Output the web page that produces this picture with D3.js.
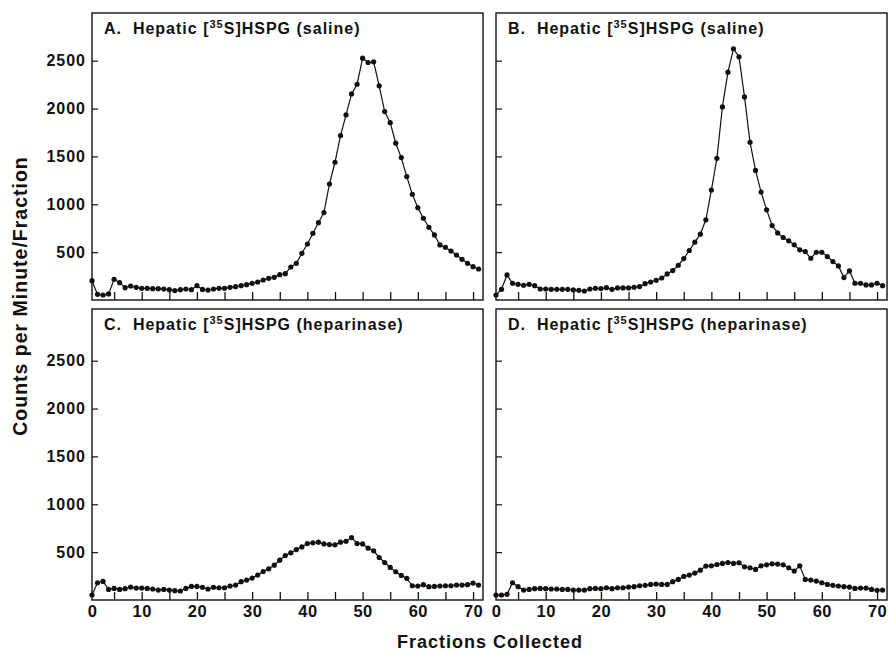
<!DOCTYPE html>
<html lang="en">
<head>
<meta charset="UTF-8">
<title>Hepatic [35S]HSPG fractions</title>
<script src="https://d3js.org/d3.v7.min.js"></script>
<style>
  body { margin: 0; background: #fff; }
  svg text { font-family: "Liberation Sans", Arial, Helvetica, sans-serif; font-weight: bold; fill: #111; }
</style>
</head>
<body>
<div id="chart"></div>
<script>
// fraction numbers on the x axis
const fractions = d3.range(1, 72);

// counts per minute per fraction
const salineA = [202, 59, 52, 63, 216, 181, 129, 146, 132, 122,
  122, 118, 118, 115, 108, 98, 108, 115, 108, 150,
  111, 104, 115, 122, 122, 132, 139, 150, 160, 174,
  188, 209, 226, 237, 265, 275, 345, 383, 488, 585,
  697, 808, 913, 1212, 1439, 1718, 1934, 2153, 2254, 2526,
  2481, 2488, 2237, 1968, 1853, 1638, 1488, 1289, 1104, 965,
  854, 760, 680, 575, 550, 512, 470, 425, 383, 348, 324];

const salineB = [52, 112, 262, 175, 164, 154, 164, 150, 115, 115,
  112, 112, 112, 112, 105, 101, 94, 115, 122, 119,
  129, 112, 126, 126, 126, 133, 140, 171, 188, 206,
  230, 272, 307, 363, 433, 517, 604, 688, 838, 1148,
  1480, 2017, 2380, 2625, 2541, 2122, 1647, 1354, 1127, 942,
  778, 701, 653, 618, 576, 524, 506, 436, 499, 499,
  454, 401, 356, 234, 304, 175, 175, 157, 157, 175, 150];

const heparinaseC = [52, 180, 194, 111, 121, 111, 118, 135, 125, 125,
  121, 115, 104, 111, 104, 97, 94, 121, 142, 142,
  132, 115, 132, 128, 128, 146, 156, 191, 208, 229,
  260, 298, 326, 364, 416, 465, 493, 527, 555, 590,
  597, 604, 586, 579, 576, 604, 614, 652, 590, 586,
  541, 514, 444, 392, 340, 295, 257, 226, 149, 146,
  160, 139, 142, 146, 149, 149, 156, 156, 160, 177, 156];

const heparinaseD = [52, 52, 59, 180, 139, 104, 111, 118, 121, 118,
  115, 115, 111, 111, 104, 104, 104, 118, 121, 118,
  128, 118, 128, 128, 135, 139, 149, 153, 163, 167,
  163, 163, 191, 215, 246, 260, 281, 312, 354, 357,
  371, 382, 392, 382, 389, 347, 337, 319, 357, 368,
  378, 375, 368, 337, 302, 357, 215, 208, 198, 180,
  163, 153, 146, 139, 135, 121, 125, 125, 111, 101, 104];

const yTicks = [500, 1000, 1500, 2000, 2500];
const xTickMarks = d3.range(5, 75, 5);
const xTickLabels = [1, 10, 20, 30, 40, 50, 60, 70];

const panels = [
  { title: "A.", treat: "saline", values: salineA, left: 92, top: 13, h: 287, yLabels: true, xLabels: false },
  { title: "B.", treat: "saline", values: salineB, left: 496, top: 13, h: 287, yLabels: false, xLabels: false },
  { title: "C.", treat: "heparinase", values: heparinaseC, left: 92, top: 309, h: 291, yLabels: true, xLabels: true },
  { title: "D.", treat: "heparinase", values: heparinaseD, left: 496, top: 309, h: 291, yLabels: false, xLabels: true }
];

const W = 888, H = 653;
const panelW = 391;
const labelFont = "'Liberation Sans', Arial, sans-serif";

const svg = d3.select("#chart").append("svg")
  .attr("width", W)
  .attr("height", H);

panels.forEach(p => {
  const g = svg.append("g").attr("transform", `translate(${p.left},${p.top})`);

  const x = d3.scaleLinear().domain([1, 71.8]).range([0, panelW]);
  // 2500 sits about 239px above the zero line in every panel
  const y = d3.scaleLinear().domain([0, 2500]).range([p.h, p.h - 239.3]);

  // y ticks pointing inward
  const yAxis = g.append("g")
    .call(d3.axisRight(y).tickValues(yTicks).tickSize(6).tickFormat(""));
  yAxis.select(".domain").remove();
  yAxis.selectAll("line").attr("stroke", "#111").attr("stroke-width", 1.2);

  if (p.yLabels) {
    const yl = g.append("g")
      .call(d3.axisLeft(y).tickValues(yTicks).tickSize(0).tickPadding(6).tickFormat(d3.format("d")));
    yl.select(".domain").remove();
    yl.selectAll("text")
      .attr("font-size", 16)
      .style("font-family", labelFont)
      .style("font-weight", "bold")
      .style("letter-spacing", "1px")
      .attr("fill", "#111");
  }

  // x ticks pointing inward (upward)
  const xAxis = g.append("g")
    .attr("transform", `translate(0,${p.h})`)
    .call(d3.axisTop(x).tickValues(xTickMarks).tickSize(8).tickFormat(""));
  xAxis.select(".domain").remove();
  xAxis.selectAll("line").attr("stroke", "#111").attr("stroke-width", 1.3);

  if (p.xLabels) {
    const xl = g.append("g")
      .attr("transform", `translate(0,${p.h})`)
      .call(d3.axisBottom(x).tickValues(xTickLabels).tickSize(0).tickPadding(5)
        .tickFormat(d => d === 1 ? "0" : d));
    xl.select(".domain").remove();
    xl.selectAll("text")
      .attr("font-size", 16.5)
      .style("font-family", labelFont)
      .style("font-weight", "bold")
      .style("letter-spacing", "0.5px")
      .attr("fill", "#111");
  }

  // frame
  g.append("rect")
    .attr("width", panelW)
    .attr("height", p.h)
    .attr("fill", "none")
    .attr("stroke", "#111")
    .attr("stroke-width", 1.4);

  const line = d3.line()
    .x((d, i) => x(fractions[i]))
    .y(d => y(d));

  g.append("path")
    .datum(p.values)
    .attr("fill", "none")
    .attr("stroke", "#111")
    .attr("stroke-width", 1.2)
    .attr("d", line);

  g.selectAll("circle.pt")
    .data(p.values)
    .join("circle")
    .attr("class", "pt")
    .attr("cx", (d, i) => x(fractions[i]))
    .attr("cy", d => y(d))
    .attr("r", 2.6)
    .attr("fill", "#111");

  // panel title with superscript
  const t = g.append("text")
    .attr("x", 12)
    .attr("y", 21)
    .attr("font-size", 16)
    .style("letter-spacing", "1px");
  t.append("tspan").text(p.title + "\u00a0 Hepatic [");
  t.append("tspan").attr("font-size", 11).attr("dy", -6).text("35");
  t.append("tspan").attr("dy", 6).text("S]HSPG (" + p.treat + ")");
});

svg.append("text")
  .attr("x", 490)
  .attr("y", 648)
  .attr("text-anchor", "middle")
  .attr("font-size", 18)
  .style("letter-spacing", "1px")
  .text("Fractions Collected");

svg.append("text")
  .attr("transform", "translate(27,296) rotate(-90)")
  .attr("text-anchor", "middle")
  .attr("font-size", 19.5)
  .style("letter-spacing", "1px")
  .text("Counts per Minute/Fraction");
</script>
</body>
</html>
